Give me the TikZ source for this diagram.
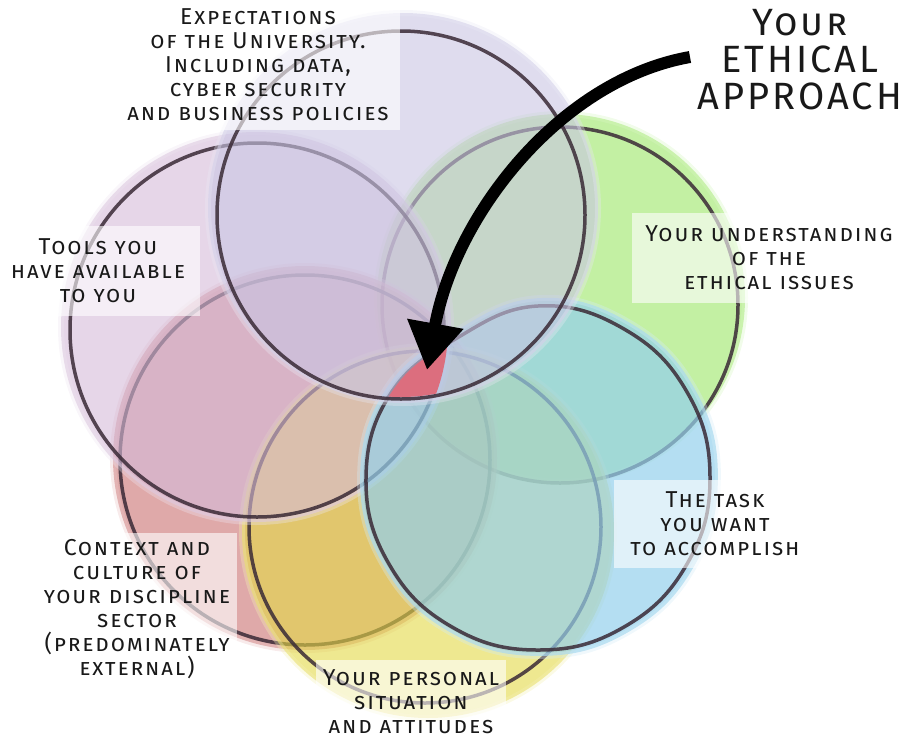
\documentclass[tikz,border=0pt]{standalone}
\usepackage{fontspec}
\setmainfont{Fira Sans}
\newfontfamily\hand[LetterSpace=8]{Fira Sans}
\usetikzlibrary{arrows.meta}

\definecolor{lavfill}{RGB}{201,197,227}
\definecolor{grnfill}{RGB}{155,230,102}
\definecolor{bluefill}{RGB}{148,208,236}
\definecolor{yelfill}{RGB}{227,217,70}
\definecolor{pinkfill}{RGB}{202,112,112}
\definecolor{mauvefill}{RGB}{213,187,217}
\definecolor{rimcol}{RGB}{58,42,54}
\definecolor{corecol}{RGB}{220,110,126}

\newcommand{\taskshape}{plot[smooth cycle,tension=0.71] coordinates {(0,-172) (86,-149) (149,-86) (172,0) (149,86)
  (86,149) (0,172) (-86,149) (-149,86) (-172,0) (-147,-85) (-81,-140)}}

\begin{document}
\begin{tikzpicture}[x=1pt,y=-1pt]
  \tikzstyle{blob}=[fill opacity=0.6,draw opacity=0.35,line width=6pt]
  \tikzstyle{rim}=[draw=rimcol,draw opacity=0.85,line width=3.5pt]
  \tikzstyle{label}=[font=\hand\scshape\fontsize{23}{24}\selectfont,align=center,
                     fill=white,fill opacity=0.6,text opacity=1,inner sep=0pt,text=black!90]
  \useasboundingbox (0,0) rectangle (909,750);

  % the six circles
  \path[blob,fill=grnfill,draw=grnfill!40!white] (561,298) circle [radius=184];
  \draw[rim] (560,305) circle [radius=178];
  \path[blob,fill=pinkfill,draw=pinkfill!40!white] (305,458) circle [radius=192];
  \draw[rim] (305,460) circle [radius=185];
  \path[blob,fill=yelfill,draw=yelfill!40!white] (428,532) circle [radius=186];
  \draw[rim] (425,527) circle [radius=176];
  \path[blob,fill=mauvefill,draw=mauvefill!40!white] (256,327) circle [radius=195];
  \draw[rim] (257,330) circle [radius=187];
  \path[blob,fill=bluefill,draw=bluefill!40!white,fill opacity=0.7,shift={(539,477)},scale=1.04] \taskshape;
  \draw[rim,shift={(538,478)}] \taskshape;
  \path[blob,fill=lavfill,draw=lavfill!40!white] (403,208) circle [radius=195];
  \draw[rim] (401,215) circle [radius=184];

  % where they all meet
  \begin{scope}
    \clip (401,215) circle [radius=182];
    \clip (256,327) circle [radius=192];
    \clip[shift={(538,478)}] \taskshape;
    \clip (305,458) circle [radius=190];
    \fill[corecol] (300,300) rectangle (500,420);
  \end{scope}

  \node[label,minimum width=284,minimum height=130] (expect) at (258,65)
    {Expectations\\of the University.\\Including data,\\cyber security\\and business policies};
  \node[label,minimum width=204,minimum height=90] (tools) at (98,271)
    {Tools you\\have available\\to you};
  \node[label,minimum width=274,minimum height=90] (understand) at (769,258)
    {Your understanding\\of the\\ethical issues};
  \node[label,minimum width=202,minimum height=88] (task) at (715,524)
    {The task\\you want\\to accomplish};
  \node[label,minimum width=200,minimum height=152] (context) at (137,609)
    {Context and\\culture of\\your discipline\\sector\\(predominately\\external)};
  \node[label,minimum width=190,minimum height=84] (personal) at (411,702)
    {Your personal\\situation\\and attitudes};

  \node[font=\hand\scshape\fontsize{38}{37}\selectfont,align=center,text=black!90] (approach) at (800,60)
    {Your\\ETHICAL\\APPROACH};

  \coordinate (start) at (690,57);
  \coordinate (core) at (427,370);
  \draw[line width=12pt,-{Triangle[length=47pt,width=54pt]}] (start) .. controls (560,80) and (455,215) .. (core);
\end{tikzpicture}
\end{document}
